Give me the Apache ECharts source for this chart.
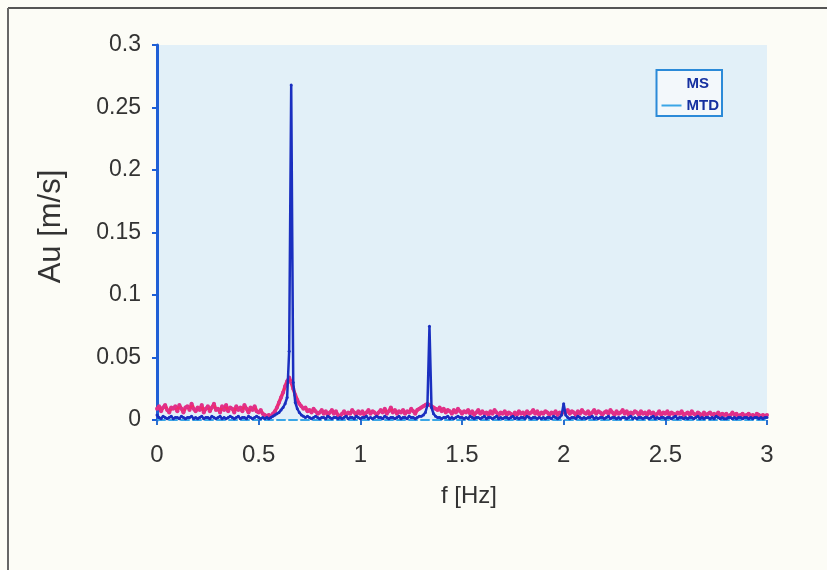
<!DOCTYPE html>
<html>
<head>
<meta charset="utf-8">
<script src="https://cdn.jsdelivr.net/npm/echarts@6/dist/echarts.min.js"></script>
<style>
  html, body { margin: 0; padding: 0; background: #fcfcf6; }
  #chart { width: 827px; height: 570px; }
</style>
</head>
<body>
<div id="chart"></div>
<script>
// Spectrum amplitude, 0–3 Hz at 0.01 Hz resolution
const freqStep = 0.01;

// MS: sharp peaks near 0.66, 1.34 and 2.0 Hz
const msValues = [
  .004,.002,.001,.003,.002,.001,.002,.003,.001,.002,
  .002,.001,.003,.002,.001,.002,.002,.003,.001,.002,
  .001,.002,.003,.001,.002,.002,.001,.003,.002,.001,
  .002,.003,.001,.002,.001,.002,.003,.002,.001,.002,
  .003,.001,.002,.002,.001,.003,.002,.001,.002,.003,
  .002,.001,.002,.001,.002,.001,.002,.003,.004,.005,
  .006,.008,.010,.013,.018,.055,.268,.030,.014,.009,
  .006,.004,.003,.002,.003,.002,.001,.002,.003,.002,
  .001,.002,.002,.001,.003,.002,.001,.002,.002,.001,
  .002,.001,.002,.003,.001,.002,.002,.001,.003,.002,
  .001,.002,.002,.003,.001,.002,.001,.002,.003,.002,
  .002,.001,.003,.002,.001,.002,.002,.001,.002,.003,
  .001,.002,.002,.001,.003,.002,.002,.001,.002,.003,
  .003,.004,.006,.012,.075,.010,.005,.003,.002,.002,
  .001,.002,.002,.003,.001,.002,.001,.002,.003,.002,
  .002,.001,.002,.001,.003,.002,.001,.002,.002,.001,
  .002,.003,.001,.002,.002,.001,.002,.003,.001,.002,
  .001,.002,.002,.001,.002,.003,.001,.002,.001,.002,
  .002,.001,.003,.002,.001,.002,.002,.001,.002,.001,
  .002,.001,.002,.002,.001,.003,.002,.001,.002,.004,
  .013,.004,.002,.001,.002,.002,.001,.003,.002,.001,
  .002,.001,.002,.002,.003,.001,.002,.001,.002,.002,
  .001,.002,.003,.001,.002,.002,.001,.002,.001,.002,
  .002,.001,.002,.003,.001,.002,.001,.002,.002,.001,
  .002,.002,.001,.002,.003,.001,.002,.001,.002,.002,
  .001,.002,.002,.001,.002,.003,.001,.002,.002,.001,
  .002,.001,.002,.002,.001,.002,.003,.001,.002,.001,
  .002,.002,.001,.002,.001,.003,.002,.001,.002,.001,
  .001,.002,.002,.001,.002,.001,.002,.002,.001,.002,
  .002,.001,.002,.001,.002,.002,.001,.002,.001,.002,.002
];

// MTD: broadband noise with a rounded bump around 0.65 Hz
const mtdValues = [
  .009,.011,.007,.010,.012,.008,.006,.010,.009,.011,
  .007,.012,.009,.006,.010,.011,.008,.013,.009,.007,
  .010,.008,.012,.006,.009,.011,.007,.010,.013,.008,
  .009,.006,.011,.008,.012,.007,.010,.009,.006,.011,
  .008,.010,.007,.012,.009,.006,.010,.008,.011,.007,
  .006,.008,.005,.004,.003,.004,.003,.005,.007,.010,
  .014,.018,.022,.027,.031,.034,.030,.025,.020,.016,
  .013,.011,.009,.010,.007,.008,.006,.009,.007,.005,
  .006,.008,.005,.007,.004,.006,.008,.005,.007,.004,
  .003,.005,.007,.004,.006,.005,.008,.006,.004,.007,
  .005,.007,.004,.006,.008,.005,.007,.006,.004,.006,
  .008,.006,.009,.005,.007,.010,.006,.008,.005,.007,
  .006,.008,.005,.007,.006,.009,.007,.005,.008,.009,
  .010,.011,.012,.013,.012,.011,.010,.009,.008,.010,
  .007,.009,.006,.008,.007,.005,.008,.006,.009,.007,
  .005,.007,.006,.008,.005,.007,.004,.006,.008,.005,
  .007,.005,.006,.004,.007,.005,.008,.006,.004,.006,
  .005,.007,.004,.006,.005,.003,.006,.004,.007,.005,
  .006,.004,.007,.005,.006,.008,.005,.007,.004,.006,
  .005,.007,.006,.004,.006,.005,.007,.004,.006,.005,
  .007,.006,.008,.005,.007,.006,.004,.007,.005,.008,
  .006,.005,.007,.004,.006,.008,.005,.007,.006,.004,
  .006,.007,.005,.008,.006,.004,.007,.005,.006,.008,
  .005,.007,.004,.006,.005,.007,.006,.004,.007,.005,
  .006,.004,.007,.005,.006,.004,.005,.007,.004,.006,
  .005,.007,.004,.006,.005,.004,.006,.005,.007,.004,
  .005,.006,.004,.007,.005,.004,.006,.005,.003,.006,
  .004,.005,.006,.004,.005,.003,.006,.004,.005,.004,
  .005,.003,.004,.006,.004,.005,.003,.004,.005,.003,
  .004,.005,.003,.004,.003,.005,.004,.003,.004,.003,.004
];

const seriesNames = ['MS', 'MTD'];
const xTicks = { min: 0, max: 3, interval: 0.5 };
const yTicks = { min: 0, max: 0.3, interval: 0.05 };

const toPairs = vals => vals.map((v, i) => [+(i * freqStep).toFixed(2), v]);

const chart = echarts.init(document.getElementById('chart'));
const font = '"Liberation Sans", Arial, sans-serif';

chart.setOption({
  backgroundColor: '#fcfcf6',
  animation: false,
  textStyle: { fontFamily: font },
  grid: {
    left: 157, right: 60, top: 45, bottom: 150,
    show: true, backgroundColor: '#e2f0f8', borderWidth: 0
  },
  graphic: [
    { type: 'line', shape: { x1: 8, y1: 8, x2: 827, y2: 8 },
      style: { stroke: '#555', lineWidth: 2 } },
    { type: 'line', shape: { x1: 8, y1: 8, x2: 8, y2: 570 },
      style: { stroke: '#666', lineWidth: 2 } }
  ],
  legend: {
    right: 105, top: 70, orient: 'vertical',
    itemGap: 7, itemWidth: 20, itemHeight: 2,
    padding: [6, 3, 3, 5],
    borderColor: '#2b8ad8', borderWidth: 2,
    backgroundColor: '#f3f8fb',
    textStyle: { color: '#1530a0', fontWeight: 'bold', fontSize: 15, fontFamily: font },
    data: [
      { name: seriesNames[0], icon: 'rect', itemStyle: { color: 'transparent' } },
      { name: seriesNames[1], icon: 'rect', itemStyle: { color: '#3aa6e6' } }
    ]
  },
  xAxis: {
    type: 'value', min: xTicks.min, max: xTicks.max, interval: xTicks.interval,
    name: 'f [Hz]', nameLocation: 'middle', nameGap: 64,
    nameTextStyle: { fontSize: 24, color: '#333', fontFamily: font, padding: [0, 0, 0, 14] },
    axisLine: { lineStyle: { color: '#3aa6e6', width: 2, type: 'dashed' } },
    axisTick: { show: true, length: 5, lineStyle: { color: '#2a6fd0', width: 2 } },
    axisLabel: { fontSize: 24, color: '#333', margin: 23, fontFamily: font },
    splitLine: { show: false }
  },
  yAxis: {
    type: 'value', min: yTicks.min, max: yTicks.max, interval: yTicks.interval,
    name: 'Au [m/s]', nameLocation: 'middle', nameGap: 90,
    nameTextStyle: { fontSize: 31, color: '#333', fontFamily: font, padding: [0, 0, 0, 12] },
    axisLine: { show: true, lineStyle: { color: '#1f5fd6', width: 3 } },
    axisTick: { show: true, length: 5, lineStyle: { color: '#1f5fd6', width: 2 } },
    axisLabel: { fontSize: 23, color: '#333', margin: 16, fontFamily: font },
    splitLine: { show: false }
  },
  series: [
    {
      name: seriesNames[0], type: 'line', data: toPairs(msValues),
      color: '#1a2fc0', showSymbol: true, symbol: 'circle', symbolSize: 3,
      lineStyle: { width: 2.5, color: '#1a2fc0' },
      itemStyle: { color: '#1a2fc0' }, z: 3
    },
    {
      name: seriesNames[1], type: 'line', data: toPairs(mtdValues),
      color: '#f02a6a', showSymbol: true, symbol: 'circle', symbolSize: 4,
      lineStyle: { width: 3.5, color: '#f02a6a' },
      itemStyle: { color: '#e0308a' }, z: 2
    }
  ]
});
</script>
</body>
</html>
